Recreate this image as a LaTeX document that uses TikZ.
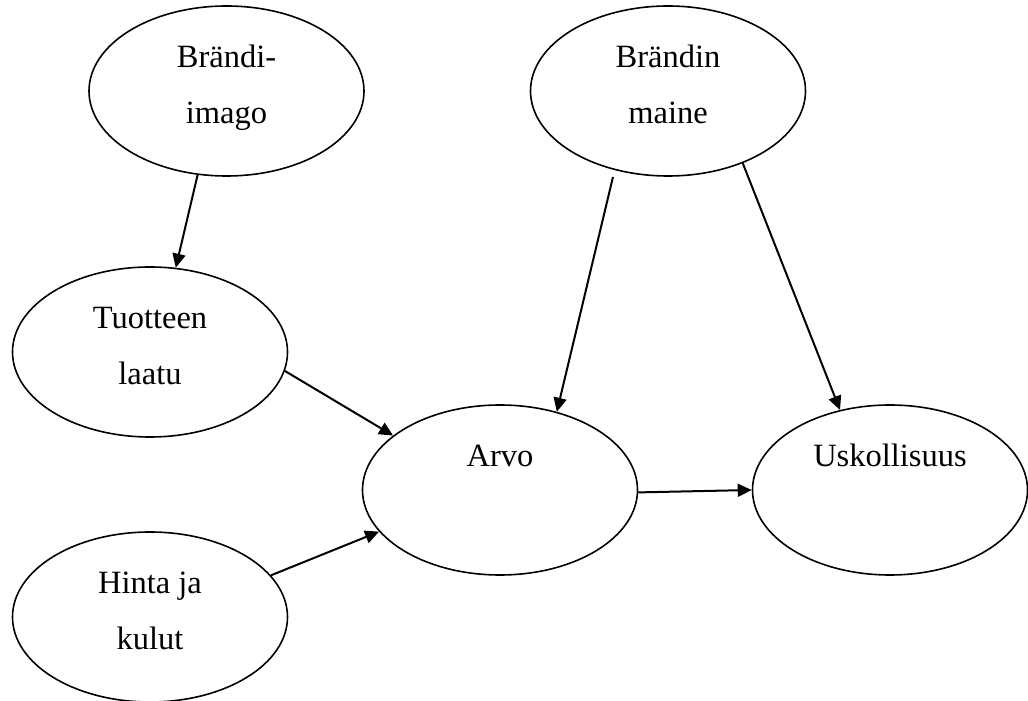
\documentclass[tikz,border=0pt]{standalone}
\usepackage{fontspec}
\setmainfont{Liberation Serif}
\usetikzlibrary{shapes.geometric,arrows.meta}
% two text lines with struts so the block sits a little below the shape centre
\newcommand{\twolines}[2]{\rule{0pt}{30pt}#1\\#2\rule[-20pt]{0pt}{20pt}}
\tikzset{
  concept/.style={ellipse, draw=black, line width=1.6pt, minimum width=275pt,
    minimum height=170pt, inner sep=0pt, align=center,
    font=\fontsize{32.5}{56}\selectfont},
  link/.style={line width=2pt, -{Triangle[length=14pt,width=13pt]}}
}
\begin{document}
\begin{tikzpicture}[x=1pt,y=1pt]
\useasboundingbox (0,0) rectangle (1028,701);
\node[concept] (bi) at (226.5,610) {\twolines{Brändi-}{imago}};
\node[concept] (bm) at (668,610) {\twolines{Brändin}{maine}};
\node[concept] (tl) at (150,349) {\twolines{Tuotteen}{laatu}};
\node[concept] (hk) at (150,84) {\twolines{Hinta ja}{kulut}};
\node[concept] (ar) at (500,211) {\twolines{Arvo}{}};
\node[concept] (us) at (890,211) {\twolines{Uskollisuus}{}};
\draw[link] (bi.-109.3) -- (tl.73.7);
\draw[link, shorten <=7pt] (bm.-124) -- (ar.54);
\draw[link] (bm.-44.6) -- (us.122);
\draw[link] (tl.-8.7) -- (ar.153.5);
\draw[link] (hk.19.3) -- (ar.199.4);
\draw[link] (ar.-1.1) -- (us.180);
\end{tikzpicture}
\end{document}
